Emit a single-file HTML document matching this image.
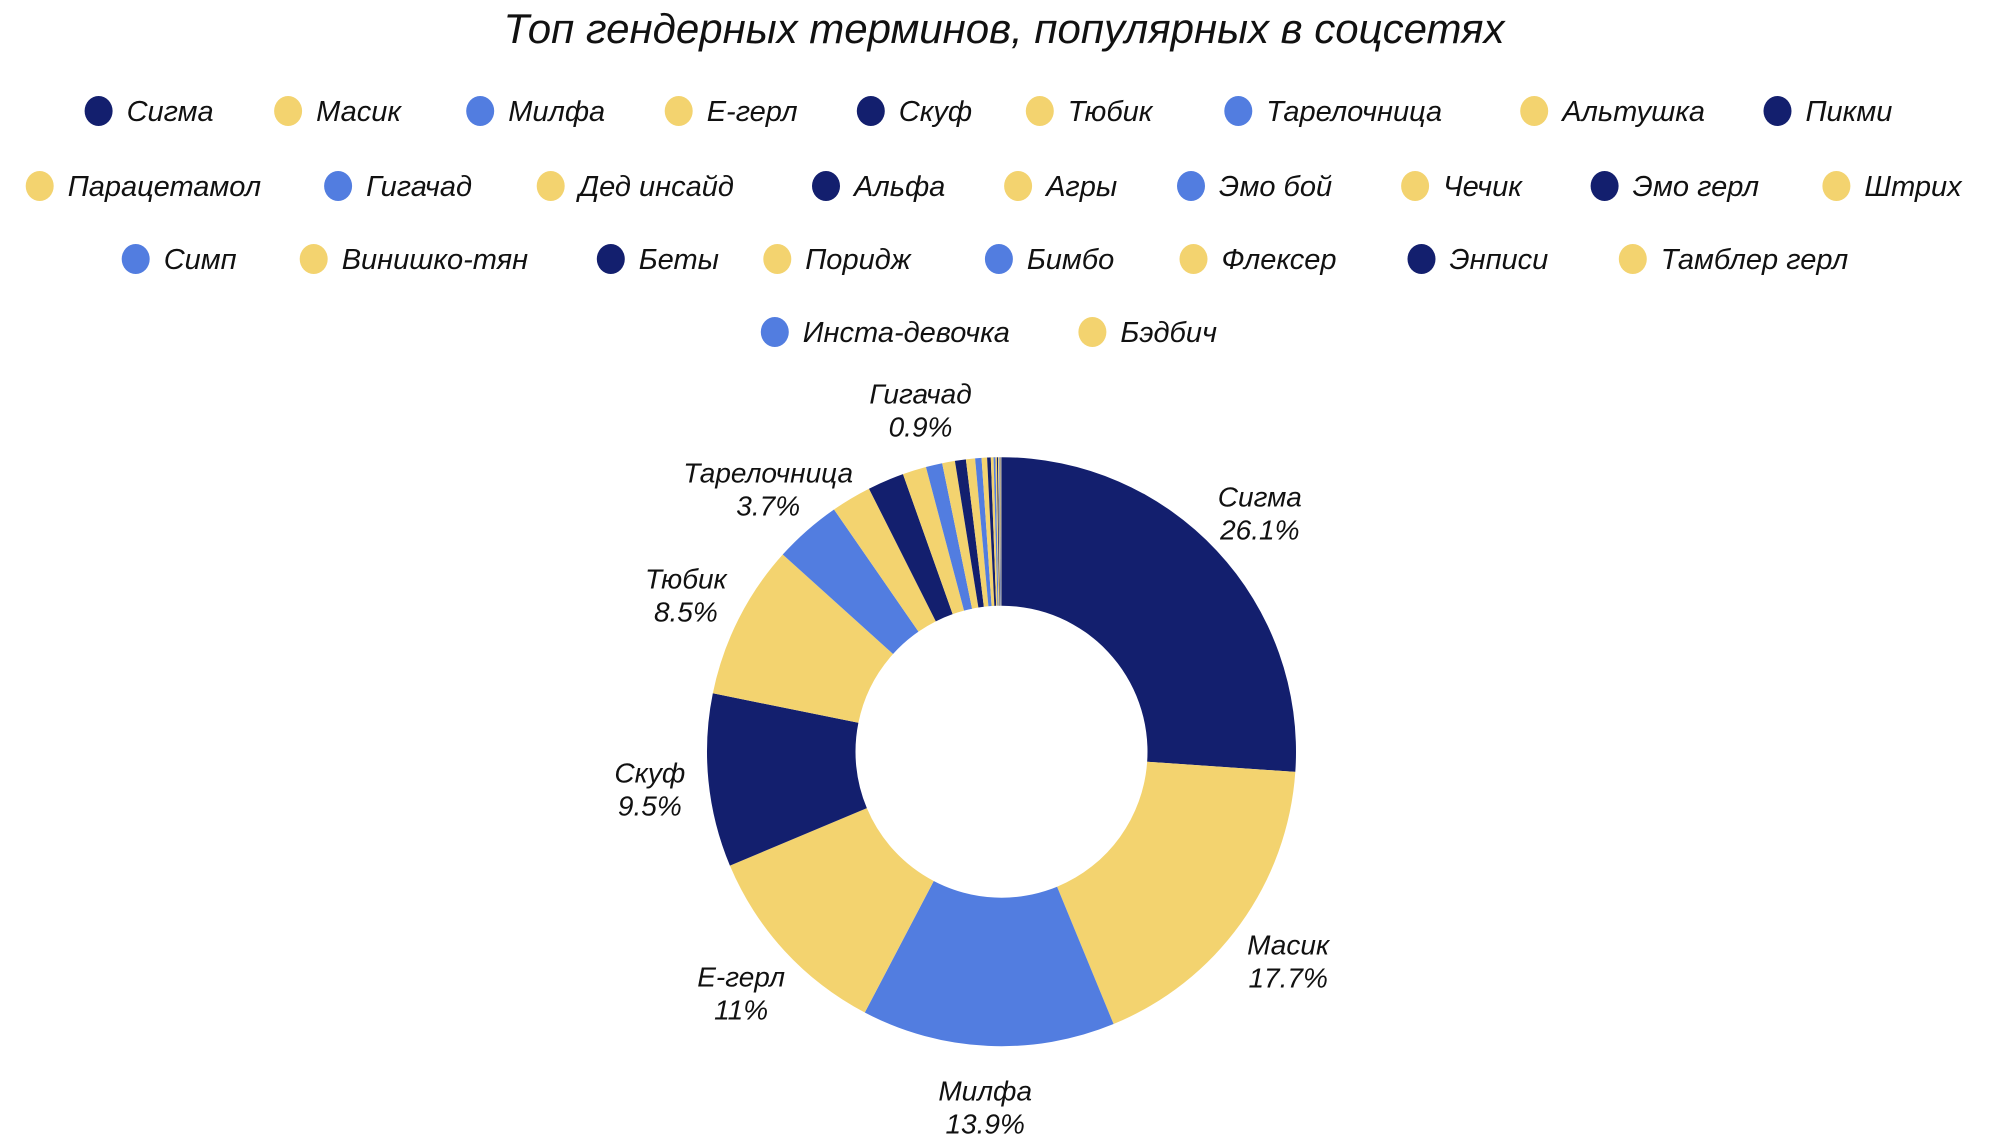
<!DOCTYPE html>
<html><head><meta charset="utf-8">
<style>
body{margin:0;background:#fff;width:2008px;height:1142px;overflow:hidden;font-family:"Liberation Sans","Noto Sans CJK SC",sans-serif;}
svg text{font-family:"Liberation Sans","Noto Sans CJK SC",sans-serif;font-style:italic;fill:#111;}
</style></head>
<body>
<svg id="chart" width="2008" height="1142" viewBox="0 0 2008 1142">
<text x="1004" y="43" text-anchor="middle" font-size="42">Топ гендерных терминов, популярных в соцсетях</text>
<g id="legend"></g>
<g id="slices"></g>
<g id="labels"></g>
</svg>
<script>
const categories = ["Сигма","Масик","Милфа","Е-герл","Скуф","Тюбик","Тарелочница","Альтушка","Пикми","Парацетамол","Гигачад","Дед инсайд","Альфа","Агры","Эмо бой","Чечик","Эмо герл","Штрих","Симп","Винишко-тян","Беты","Поридж","Бимбо","Флексер","Энписи","Тамблер герл","Инста-девочка","Бэдбич"];
const values = [26.1,17.7,13.9,11,9.5,8.5,3.7,2.2,2.0,1.3,0.9,0.7,0.6,0.5,0.35,0.3,0.2,0.15,0.1,0.08,0.06,0.05,0.04,0.03,0.025,0.02,0.015,0.01];
const shownLabels = ["Сигма","Масик","Милфа","Е-герл","Скуф","Тюбик","Тарелочница","Гигачад"];
const palette = ["#131f6e","#f3d36f","#527de0","#f3d36f"];

const NS="http://www.w3.org/2000/svg";
const cx=1001.5, cy=751.7, R=294.5, r0=146;
const total=values.reduce((a,b)=>a+b,0);
function angle(v){return v/total*Math.PI*2;}
function pt(a,rad){return [cx+rad*Math.sin(a), cy-rad*Math.cos(a)];}

const slicesG=document.getElementById('slices');
const labelsG=document.getElementById('labels');
let acc=0;
values.forEach((v,i)=>{
  const a0=angle(acc), a1=angle(acc+v); acc+=v;
  const large=(a1-a0)>Math.PI?1:0;
  const [x0,y0]=pt(a0,R),[x1,y1]=pt(a1,R),[x2,y2]=pt(a1,r0),[x3,y3]=pt(a0,r0);
  const p=document.createElementNS(NS,'path');
  p.setAttribute('d',`M${x0},${y0}A${R},${R} 0 ${large} 1 ${x1},${y1}L${x2},${y2}A${r0},${r0} 0 ${large} 0 ${x3},${y3}Z`);
  p.setAttribute('fill',palette[i%4]);
  
  
  slicesG.appendChild(p);
  if(shownLabels.includes(categories[i])){
    const am=(a0+a1)/2;
    const [lx,ly]=pt(am,R*1.2);
    const t=document.createElementNS(NS,'text');
    t.setAttribute('x',lx);t.setAttribute('y',ly-4);
    t.setAttribute('text-anchor','middle');t.setAttribute('font-size','28');
    t.textContent=categories[i];
    
    
    labelsG.appendChild(t);
    const t2=document.createElementNS(NS,'text');
    t2.setAttribute('x',lx);t2.setAttribute('y',ly+29);
    t2.setAttribute('text-anchor','middle');t2.setAttribute('font-size','28');
    t2.textContent=(Math.round(v*10)/10)+'%';
    
    
    labelsG.appendChild(t2);
  }
});

const rowsX=[[98.6,288.1,480.2,678.7,870.8,1039.8,1238.3,1534.2,1777.5],[39.7,338.1,550.7,826.0,1018.1,1191.0,1415.1,1604.6,1836.4],[135.7,313.7,610.8,777.3,998.9,1193.5,1421.5,1632.8],[774.8,1092.4]];
const rowsY=[111,186,259,332];
const legendG=document.getElementById('legend');
let k=0;
rowsX.forEach((row,ri)=>row.forEach(x=>{
  const i=k++;
  const g=document.createElementNS(NS,'g');
  
  
  const c=document.createElementNS(NS,'ellipse');
  c.setAttribute('cx',x);c.setAttribute('cy',rowsY[ri]);c.setAttribute('rx',14);c.setAttribute('ry',15);
  c.setAttribute('fill',palette[i%4]);
  
  
  g.appendChild(c);
  const t=document.createElementNS(NS,'text');
  t.setAttribute('x',x+28);t.setAttribute('y',rowsY[ri]+10);t.setAttribute('font-size','29');
  t.textContent=categories[i];
  
  
  g.appendChild(t);
  legendG.appendChild(g);
}));
</script>
</body></html>
